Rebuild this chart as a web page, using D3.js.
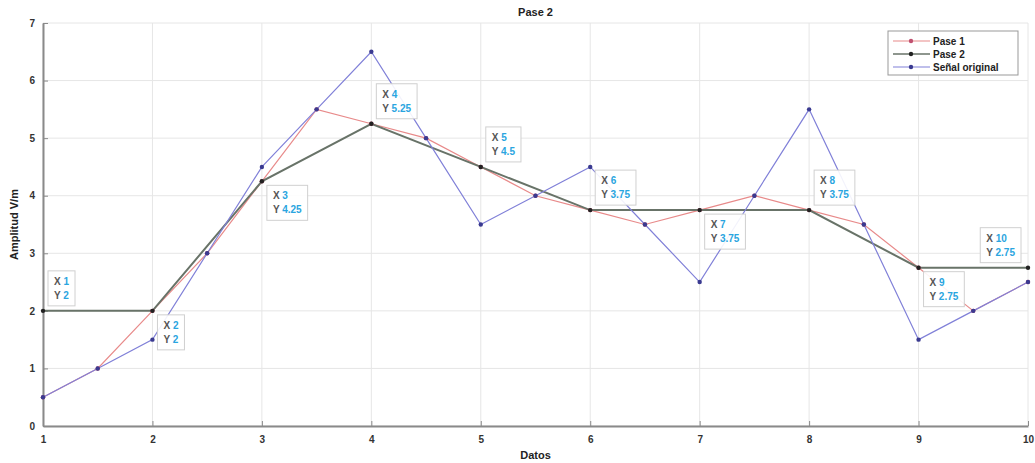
<!DOCTYPE html>
<html><head><meta charset="utf-8">
<script src="https://cdn.jsdelivr.net/npm/d3@7"></script>
<style>
body{margin:0;background:#fff;}
svg text{font-family:"Liberation Sans",Arial,sans-serif;}
</style>
</head><body>
<svg id="c" width="1035" height="463"></svg>
<script>
const title = "Pase 2";
const xLabel = "Datos";
const yLabel = "Amplitud V/m";
const xTicks = [1,2,3,4,5,6,7,8,9,10];
const yTicks = [0,1,2,3,4,5,6,7];

const xOrig = [1,1.5,2,2.5,3,3.5,4,4.5,5,5.5,6,6.5,7,7.5,8,8.5,9,9.5,10];
const senalOriginal = [0.5,1,1.5,3,4.5,5.5,6.5,5,3.5,4,4.5,3.5,2.5,4,5.5,3.5,1.5,2,2.5];
const pase1 = [0.5,1,2,3,4.25,5.5,5.25,5,4.5,4,3.75,3.5,3.75,4,3.75,3.5,2.75,2,2.5];
const xPase2 = [1,2,3,4,5,6,7,8,9,10];
const pase2 = [2,2,4.25,5.25,4.5,3.75,3.75,3.75,2.75,2.75];
const legendNames = ["Pase 1","Pase 2","Señal original"];
// datatip placement: which side of the point each tip sits
const tipSide = ["ur","dr","dr","ur","ur","ur","dr","ur","dr","ul"];

const svg = d3.select("#c");
const m = {l:43, r:1035-1028, t:23, b:463-426};
const W = 1035, H = 463;
const x = d3.scaleLinear().domain([1,10]).range([m.l, W-m.r]);
const y = d3.scaleLinear().domain([0,7]).range([H-m.b, m.t]);

// grid
svg.append("g").selectAll("line").data(xTicks).join("line")
  .attr("x1",d=>x(d)).attr("x2",d=>x(d)).attr("y1",y(0)).attr("y2",y(7))
  .attr("stroke","#e6e6e6").attr("stroke-width",1);
svg.append("g").selectAll("line").data(yTicks).join("line")
  .attr("x1",x(1)).attr("x2",x(10)).attr("y1",d=>y(d)).attr("y2",d=>y(d))
  .attr("stroke","#e6e6e6").attr("stroke-width",1);

// axes
const xAxis = d3.axisBottom(x).tickValues(xTicks).tickFormat(d3.format("d")).tickSizeInner(-5).tickSizeOuter(0).tickPadding(10);
const yAxis = d3.axisLeft(y).tickValues(yTicks).tickFormat(d3.format("d")).tickSizeInner(-5).tickSizeOuter(0).tickPadding(8);
const gx = svg.append("g").attr("transform",`translate(0,${y(0)})`).call(xAxis);
const gy = svg.append("g").attr("transform",`translate(${x(1)},0)`).call(yAxis);
[gx,gy].forEach(g=>{
  g.select(".domain").attr("stroke","#8a8a8a").attr("stroke-width",2);
  g.selectAll(".tick line").attr("stroke","#8a8a8a");
  g.selectAll(".tick text").attr("fill","#333").attr("font-size",10).attr("font-weight","bold")
   .attr("font-family","Liberation Sans,Arial,sans-serif");
});

// lines
const line = d3.line().x(d=>x(d[0])).y(d=>y(d[1]));
const sOrig = xOrig.map((d,i)=>[d,senalOriginal[i]]);
const sP1 = xOrig.map((d,i)=>[d,pase1[i]]);
const sP2 = xPase2.map((d,i)=>[d,pase2[i]]);
const series = [
  {data:sP1, color:"#e88a8a", w:1.2, mk:"#c05070"},
  {data:sP2, color:"#687368", w:2, mk:"#222"},
  {data:sOrig, color:"#8080d8", w:1.2, mk:"#3a3a90"}
];
series.forEach(s=>{
  svg.append("path").datum(s.data).attr("d",line).attr("fill","none")
    .attr("stroke",s.color).attr("stroke-width",s.w);
});
series.forEach(s=>{
  svg.append("g").selectAll("circle").data(s.data).join("circle")
    .attr("cx",d=>x(d[0])).attr("cy",d=>y(d[1])).attr("r",2.2).attr("fill",s.mk);
});

// datatips
const tipH = 35;
xPase2.forEach((xv,i)=>{
  const px = x(xv), py = y(pase2[i]);
  const side = tipSide[i];
  const g = svg.append("g");
  const rect = g.append("rect");
  const yv = pase2[i];
  const t1 = g.append("text").attr("font-size",10).attr("font-weight","bold");
  t1.append("tspan").attr("fill","#555").text("X ");
  t1.append("tspan").attr("fill","#2aa5e0").text(xv);
  const t2 = g.append("text").attr("font-size",10).attr("font-weight","bold");
  t2.append("tspan").attr("fill","#555").text("Y ");
  t2.append("tspan").attr("fill","#2aa5e0").text(yv);
  const tw = Math.max(t1.node().getComputedTextLength(), t2.node().getComputedTextLength());
  const bw = tw + 12;
  const bx = side==="ul" ? px - bw - 7 : px + 5;
  const by = side[0]==="u" ? py - tipH - 5 : py + 4;
  rect.attr("x",bx).attr("y",by).attr("width",bw).attr("height",tipH)
    .attr("fill","#fff").attr("fill-opacity",0.9).attr("stroke","#d0d0d0");
  t1.attr("x",bx+6).attr("y",by+14);
  t2.attr("x",bx+6).attr("y",by+28);
});

// title & labels
svg.append("text").attr("x",(x(1)+x(10))/2).attr("y",16).attr("text-anchor","middle")
  .attr("font-size",11).attr("font-weight","bold").attr("fill","#222").text(title);
svg.append("text").attr("x",(x(1)+x(10))/2).attr("y",459).attr("text-anchor","middle")
  .attr("font-size",11).attr("font-weight","bold").attr("fill","#222").text(xLabel);
svg.append("text").attr("transform",`translate(18,${(y(0)+y(7))/2}) rotate(-90)`).attr("text-anchor","middle")
  .attr("font-size",11).attr("font-weight","bold").attr("fill","#222").text(yLabel);

// legend
const lg = svg.append("g").attr("transform","translate(888,31)");
lg.append("rect").attr("width",130).attr("height",44).attr("fill","#fff").attr("stroke","#999");
legendNames.forEach((n,i)=>{
  const s = series[i];
  const yy = 10 + i*13;
  lg.append("line").attr("x1",5).attr("x2",42).attr("y1",yy).attr("y2",yy).attr("stroke",s.color).attr("stroke-width",i===1?1.5:1.2);
  lg.append("circle").attr("cx",23).attr("cy",yy).attr("r",2.2).attr("fill",s.mk);
  lg.append("text").attr("x",45).attr("y",yy+3.5).attr("font-size",10).attr("font-weight","bold").attr("fill","#222").text(n);
});
</script>
</body></html>
